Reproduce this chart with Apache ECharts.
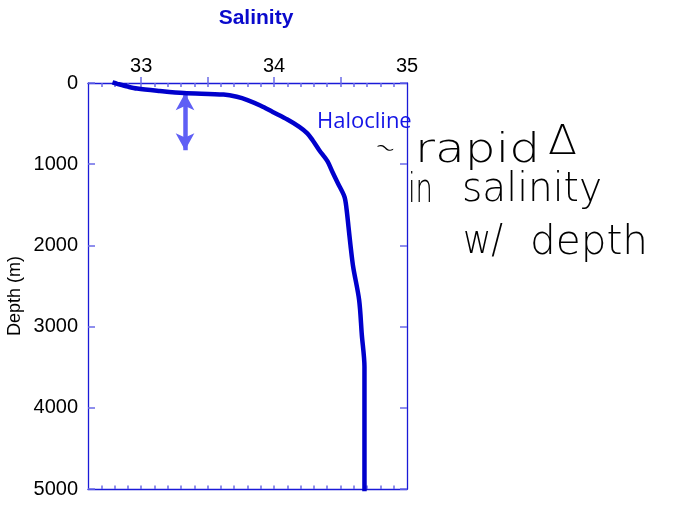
<!DOCTYPE html>
<html><head><meta charset="utf-8">
<script src="https://cdn.jsdelivr.net/npm/echarts@6/dist/echarts.min.js"></script>
<style>html,body{margin:0;padding:0;background:#fff}#c{width:684px;height:532px}</style>
</head><body><div id="c"></div>
<script>
// ---- data ----
const salinity = [32.80, 32.82, 32.90, 32.97, 33.14, 33.32, 33.62, 33.72, 33.80, 33.90, 33.99, 34.10, 34.19, 34.25, 34.29, 34.34, 34.40, 34.44, 34.48, 34.53, 34.545, 34.56, 34.575, 34.595, 34.64, 34.66, 34.68, 34.68];
const depth    = [0,     10,    45,    69,    98,    123,   143,   170,   210,   280,   357,   450,   540,   620,   705,   828,   960,   1100,  1235,  1403,  1550,   1772,  2000,   2264,   2674,  3100,  3495,  5000];
const xLabelValues = [33, 34, 35];
const xMinorTicks = [32.7, 32.8, 32.9, 33.0, 33.1, 33.2, 33.3, 33.4, 33.5, 33.6, 33.7, 33.8, 33.9, 34.0, 34.1, 34.2, 34.3, 34.4, 34.5, 34.6, 34.7, 34.8, 34.9];
const xMajorTicks = [33, 33.5, 34, 34.5];
const arrowSalinity = 33.33;
const arrowDepths = [125, 828];

const chart = echarts.init(document.getElementById('c'));
const lineCol = '#1a1ad8', tickCol = '#6b6be8';
const FONT = '"Liberation Sans", Arial, Helvetica, sans-serif';
const HW = '"DejaVu Sans", sans-serif';

function hw(text, left, targetW, yMid, size, extra) {
  const ctx = document.createElement('canvas').getContext('2d');
  const font = '200 ' + size + 'px ' + HW;
  ctx.font = font;
  const w = ctx.measureText(text).width;
  return Object.assign({
    type: 'text', x: left, y: yMid, scaleX: targetW / w, z: 100,
    style: { text: text, font: font, fill: '#000', align: 'left', verticalAlign: 'middle' }
  }, extra || {});
}

const pairs = salinity.map((s, i) => [s, depth[i]]);

chart.setOption({
  animation: false,
  grid: { left: 88, top: 83, width: 319, height: 406, containLabel: false },
  xAxis: [
    { type: 'value', position: 'top', min: 32.6, max: 35,
      axisLine: { show: true, onZero: false, lineStyle: { color: lineCol, width: 1.3 } },
      axisTick: { show: true, inside: true, length: 4, customValues: xMinorTicks, lineStyle: { color: tickCol, width: 1.5 } },
      axisLabel: { customValues: xLabelValues, fontSize: 20, color: '#000', fontFamily: FONT, margin: 7, formatter: v => String(v) },
      splitLine: { show: false } },
    { type: 'value', position: 'bottom', min: 32.6, max: 35,
      axisLine: { show: true, onZero: false, lineStyle: { color: lineCol, width: 1.3 } },
      axisTick: { show: true, inside: true, length: 3.5, customValues: xMinorTicks, lineStyle: { color: tickCol, width: 1.5 } },
      axisLabel: { show: false }, splitLine: { show: false } },
    { type: 'value', position: 'bottom', min: 32.6, max: 35,
      axisLine: { show: false },
      axisTick: { show: true, inside: true, length: 6, customValues: xMajorTicks, lineStyle: { color: tickCol, width: 1.5 } },
      axisLabel: { show: false }, splitLine: { show: false } }
  ],
  yAxis: [
    { type: 'value', inverse: true, min: 0, max: 5000, interval: 1000, position: 'left',
      axisLine: { show: true, onZero: false, lineStyle: { color: lineCol, width: 1.3 } },
      axisTick: { show: true, inside: true, length: 7, lineStyle: { color: tickCol, width: 1.5 } },
      axisLabel: { fontSize: 20, color: '#000', fontFamily: FONT, margin: 10, formatter: v => String(v) },
      splitLine: { show: false } },
    { type: 'value', inverse: true, min: 0, max: 5000, interval: 1000, position: 'right',
      axisLine: { show: true, onZero: false, lineStyle: { color: lineCol, width: 1.3 } },
      axisTick: { show: true, inside: true, length: 7, lineStyle: { color: tickCol, width: 1.5 } },
      axisLabel: { show: false }, splitLine: { show: false } }
  ],
  series: [{
    type: 'line', xAxisIndex: 0, yAxisIndex: 0, data: pairs, symbol: 'none', smooth: 0.3, clip: false,
    lineStyle: { color: '#0000cc', width: 4.5, cap: 'square', join: 'round' },
    z: 5,
    markLine: {
      silent: true, symbol: ['arrow', 'arrow'], symbolSize: [14, 17], label: { show: false },
      lineStyle: { color: '#5f5ff5', width: 4.5, type: 'solid' },
      data: [[{ coord: [arrowSalinity, arrowDepths[0]] }, { coord: [arrowSalinity, arrowDepths[1]] }]]
    }
  }],
  graphic: [
    { type: 'text', x: 256, y: 18, style: { text: 'Salinity', font: 'bold 21px ' + FONT, fill: '#0a0acc', align: 'center', verticalAlign: 'middle' } },
    { type: 'text', x: 15, y: 296, rotation: Math.PI / 2, style: { text: 'Depth (m)', font: '18px ' + FONT, fill: '#000', align: 'center', verticalAlign: 'middle' } },
    { type: 'text', x: 317, y: 122, z: 50, style: { text: 'Halocline', font: '22px "Open Sans", sans-serif', fill: '#1414e6', align: 'left', verticalAlign: 'middle' } },
    hw('~', 375, 21, 146, 30, { rotation: -0.35 }),
    hw('rapid', 415, 125, 152, 40),
    hw('Δ', 548, 29, 144, 40),
    hw('in', 408, 25, 192, 40),
    hw('salinity', 462, 140, 191, 40),
    hw('w/', 463, 40, 243, 40),
    hw('depth', 530, 118, 244, 40)
  ]
});
</script></body></html>
